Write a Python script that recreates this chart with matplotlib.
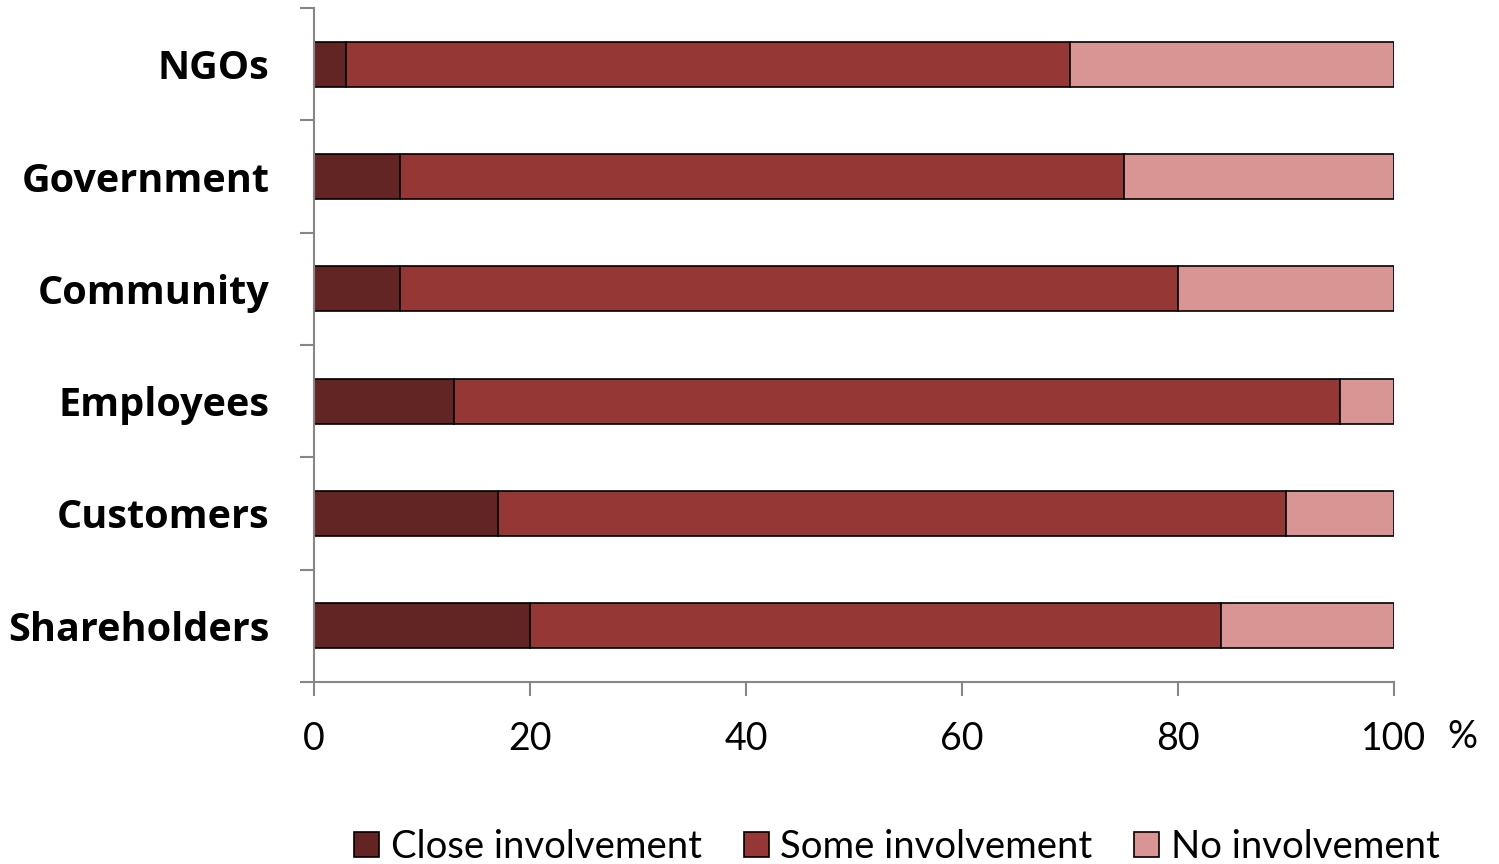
import numpy as np
import matplotlib.pyplot as plt

plt.rcParams['font.family'] = ['Lato', 'DejaVu Sans']

groups = ['Shareholders', 'Customers', 'Employees', 'Community', 'Government', 'NGOs']
close_inv = [20, 17, 13, 8, 8, 3]
some_inv = [64, 73, 82, 72, 67, 67]
no_inv = [16, 10, 5, 20, 25, 30]
series_names = ['Close involvement', 'Some involvement', 'No involvement']
colors = ['#632523', '#953735', '#D99594']
xticks = [0, 20, 40, 60, 80, 100]

fig = plt.figure(figsize=(14.99, 8.64), dpi=100)
ax = fig.add_axes([314 / 1499, 1 - 682 / 864, 1080 / 1499, 674 / 864])

y = np.arange(len(groups))
left = np.zeros(len(groups))
for vals, name, col in zip([close_inv, some_inv, no_inv], series_names, colors):
    ax.barh(y, vals, left=left, height=0.4, color=col, edgecolor='black',
            linewidth=1.2, label=name)
    left += np.array(vals)

ax.set_xlim(0, 100)
ax.set_ylim(-0.5, len(groups) - 0.5)

# category labels, ticks drawn at the boundaries
ax.set_yticks(y)
ax.set_yticklabels(groups, fontsize=28.5, fontweight='bold', family=['Open Sans', 'DejaVu Sans'])
ax.tick_params(axis='y', which='major', length=0, pad=32)
ax.set_yticks(np.arange(-0.5, len(groups)), minor=True)
ax.tick_params(axis='y', which='minor', length=10, width=1.5, color='#868686')

ax.set_xticks(xticks)
ax.set_xticklabels([str(v) for v in xticks], fontsize=27)
ax.tick_params(axis='x', length=10, width=1.5, color='#868686', pad=18)

for s in ['top', 'right']:
    ax.spines[s].set_visible(False)
for s in ['left', 'bottom']:
    ax.spines[s].set_color('#868686')
    ax.spines[s].set_linewidth(1.5)

fig.text(1462 / 1499, 1 - 737 / 864, '%', fontsize=27, ha='center', va='center')

leg = fig.legend(loc='center', bbox_to_anchor=(897 / 1499, 1 - 847 / 864), ncol=3,
                 frameon=False, fontsize=27.5, handlelength=0.65, handleheight=0.65,
                 handletextpad=0.3, columnspacing=1.1)
for h in leg.legend_handles:
    h.set_edgecolor('black')
    h.set_linewidth(1.2)

fig.savefig('out.png', dpi=100)
